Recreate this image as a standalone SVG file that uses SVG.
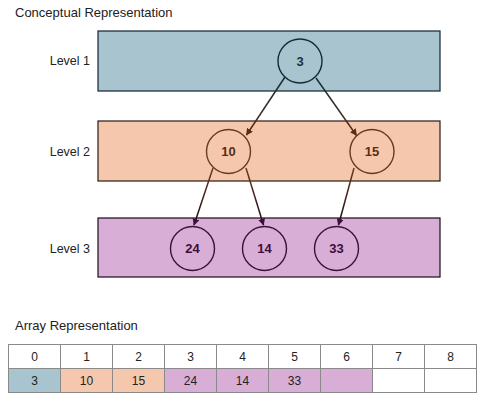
<svg xmlns="http://www.w3.org/2000/svg" width="486" height="400" viewBox="0 0 486 400">
<style>
.t{font-family:"Liberation Sans",Arial,sans-serif;fill:#222}
.title{font-size:13px}
.lvl{font-size:12.5px;text-anchor:end}
.num{font-size:13px;font-weight:bold;text-anchor:middle}
.cell{font-size:12px;text-anchor:middle}
.band{stroke-width:1.2}
.node{stroke-width:1.4}
.conn{fill:none;stroke-width:1.5}
.grid{stroke:#8a8a8a;stroke-width:1}
</style>
<defs>
<marker id="ahB" viewBox="0 0 10 10" refX="9" refY="5" markerWidth="7" markerHeight="7" orient="auto" markerUnits="userSpaceOnUse"><path d="M0,0 L10,5 L0,10 z" fill="#5a2e14"/></marker>
<marker id="ahP" viewBox="0 0 10 10" refX="9" refY="5" markerWidth="7" markerHeight="7" orient="auto" markerUnits="userSpaceOnUse"><path d="M0,0 L10,5 L0,10 z" fill="#3d0f3c"/></marker>
<linearGradient id="g1" gradientUnits="userSpaceOnUse" x1="0" y1="77" x2="0" y2="135"><stop offset="0" stop-color="#132b39"/><stop offset="1" stop-color="#5a2e14"/></linearGradient>
<linearGradient id="g2" gradientUnits="userSpaceOnUse" x1="0" y1="168" x2="0" y2="225"><stop offset="0" stop-color="#6b3a1e"/><stop offset="1" stop-color="#1a0a1a"/></linearGradient>
</defs>
<text class="t title" x="15" y="17">Conceptual Representation</text>
<g id="level1">
<rect class="band" x="98" y="31" width="342" height="60" fill="#a7c4cf" stroke="#0f2433"/>
<text class="t lvl" x="90" y="65">Level 1</text>
</g>
<g id="level2">
<rect class="band" x="98" y="121" width="342" height="60" fill="#f5c8ad" stroke="#2a1a12"/>
<text class="t lvl" x="90" y="156">Level 2</text>
</g>
<g id="level3">
<rect class="band" x="98" y="218" width="342" height="59" fill="#d9aed6" stroke="#1a0d1a"/>
<text class="t lvl" x="90" y="253">Level 3</text>
</g>
<g id="connectors">
<line class="conn" stroke="url(#g1)" x1="285" y1="77" x2="246.5" y2="135" marker-end="url(#ahB)"/>
<line class="conn" stroke="url(#g1)" x1="316" y1="78" x2="356.5" y2="135.5" marker-end="url(#ahB)"/>
<line class="conn" stroke="url(#g2)" x1="213" y1="168" x2="194" y2="225" marker-end="url(#ahP)"/>
<line class="conn" stroke="url(#g2)" x1="246" y1="168" x2="263.5" y2="225" marker-end="url(#ahP)"/>
<line class="conn" stroke="url(#g2)" x1="354" y1="168" x2="338.5" y2="225" marker-end="url(#ahP)"/>
</g>
<g id="n3"><circle class="node" cx="300" cy="61" r="22" fill="#a7c4cf" stroke="#132b39"/><text class="t num" x="300" y="65.5" style="fill:#1b3444">3</text></g>
<g id="n10"><circle class="node" cx="228.5" cy="151.5" r="22" fill="#f5c8ad" stroke="#6b3a1e"/><text class="t num" x="228.5" y="156" style="fill:#5a2e14">10</text></g>
<g id="n15"><circle class="node" cx="372" cy="151.5" r="22" fill="#f5c8ad" stroke="#6b3a1e"/><text class="t num" x="372" y="156" style="fill:#5a2e14">15</text></g>
<g id="n24"><circle class="node" cx="192.5" cy="248.5" r="22" fill="#d9aed6" stroke="#3d0f3c"/><text class="t num" x="192.5" y="253" style="fill:#3d0f3c">24</text></g>
<g id="n14"><circle class="node" cx="264.5" cy="248.5" r="22" fill="#d9aed6" stroke="#3d0f3c"/><text class="t num" x="264.5" y="253" style="fill:#3d0f3c">14</text></g>
<g id="n33"><circle class="node" cx="336.5" cy="248.5" r="22" fill="#d9aed6" stroke="#3d0f3c"/><text class="t num" x="336.5" y="253" style="fill:#3d0f3c">33</text></g>
<text class="t title" x="15" y="330">Array Representation</text>
<g id="array">
<rect x="8.5" y="368.5" width="52" height="24" fill="#a7c4cf"/>
<rect x="60.5" y="368.5" width="104" height="24" fill="#f5c8ad"/>
<rect x="164.5" y="368.5" width="208" height="24" fill="#d9aed6"/>
<rect x="372.5" y="368.5" width="104" height="24" fill="#ffffff"/>
<rect class="grid" x="8.5" y="344.5" width="468" height="48" fill="none" stroke="#666"/>
<line class="grid" x1="8.5" y1="368.5" x2="476.5" y2="368.5"/>
<line class="grid" x1="60.5" y1="344.5" x2="60.5" y2="392.5"/>
<line class="grid" x1="112.5" y1="344.5" x2="112.5" y2="392.5"/>
<line class="grid" x1="164.5" y1="344.5" x2="164.5" y2="392.5"/>
<line class="grid" x1="216.5" y1="344.5" x2="216.5" y2="392.5"/>
<line class="grid" x1="268.5" y1="344.5" x2="268.5" y2="392.5"/>
<line class="grid" x1="320.5" y1="344.5" x2="320.5" y2="392.5"/>
<line class="grid" x1="372.5" y1="344.5" x2="372.5" y2="392.5"/>
<line class="grid" x1="424.5" y1="344.5" x2="424.5" y2="392.5"/>
<text class="t cell" x="34.5" y="361">0</text>
<text class="t cell" x="86.5" y="361">1</text>
<text class="t cell" x="138.5" y="361">2</text>
<text class="t cell" x="190.5" y="361">3</text>
<text class="t cell" x="242.5" y="361">4</text>
<text class="t cell" x="294.5" y="361">5</text>
<text class="t cell" x="346.5" y="361">6</text>
<text class="t cell" x="398.5" y="361">7</text>
<text class="t cell" x="450.5" y="361">8</text>
<text class="t cell" x="34.5" y="385">3</text>
<text class="t cell" x="86.5" y="385">10</text>
<text class="t cell" x="138.5" y="385">15</text>
<text class="t cell" x="190.5" y="385">24</text>
<text class="t cell" x="242.5" y="385">14</text>
<text class="t cell" x="294.5" y="385">33</text>
</g>
</svg>
